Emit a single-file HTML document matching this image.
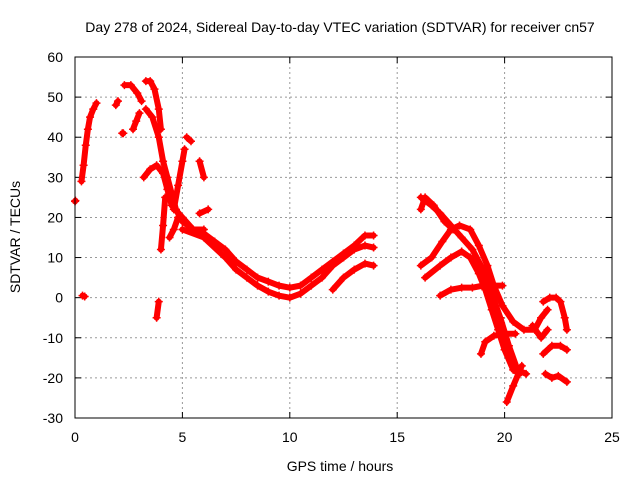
<!DOCTYPE html>
<html><head><meta charset="utf-8"><style>
body{margin:0;background:#fff;}
svg text{font-family:"Liberation Sans",sans-serif;font-size:14px;fill:#000;}
</style></head><body>
<svg id="c" width="640" height="480"></svg>
<script>
const xTicks=[0,5,10,15,20,25];
const yTicks=[-30,-20,-10,0,10,20,30,40,50,60];
const tracks=[
[[0.3,29],[0.4,33],[0.5,38],[0.6,42],[0.7,45],[0.85,47],[1.0,48.5]],
[[0.35,0.5],[0.45,0.3]],
[[0,24],[0.02,24.2]],
[[1.9,48],[2.0,49]],
[[2.2,41],[2.25,41]],
[[2.3,53],[2.6,53],[2.9,51],[3.1,49]],
[[2.7,42],[2.85,44],[3.0,46]],
[[3.3,54],[3.5,54],[3.7,52],[3.9,47],[4.0,42]],
[[3.3,47],[3.6,45],[3.9,40],[4.1,34],[4.3,30],[4.5,26],[4.7,22],[5.0,19],[5.5,17],[6,16],[6.5,14],[7,12],[7.5,9],[8,7],[8.5,5],[9,4],[9.5,3],[10,2.5],[10.5,3],[11,5],[11.5,7],[12,9],[12.5,11],[13,13],[13.5,15.5],[13.9,15.5]],
[[3.2,30],[3.5,32],[3.8,33],[4.1,31],[4.3,27],[4.5,23],[5,20],[5.5,17],[6,17]],
[[4.2,25],[4.1,18],[4.0,12]],
[[3.8,-5],[3.9,-1]],
[[4.4,15],[4.6,17],[4.8,20]],
[[4.6,22],[4.8,28],[5.0,34],[5.1,37]],
[[5.2,40],[5.4,39]],
[[5.8,34],[6.0,30]],
[[5.8,21],[6.2,22]],
[[5,17],[6,15],[7,10],[7.5,7],[8,5],[8.5,3],[9,1.5],[9.5,0.5],[10,0],[10.5,1],[11,3],[11.5,5],[12,8],[12.5,10],[13,12],[13.5,13],[13.9,12.5]],
[[12,2],[12.5,5],[13,7],[13.5,8.5],[13.9,8]],
[[16.1,25],[16.6,23],[17,21],[17.5,18],[18,15],[18.5,12],[19,7],[19.4,1],[19.8,-5],[20.2,-12],[20.6,-18],[21,-19]],
[[16.1,22],[16.3,25],[16.7,23],[17.2,19],[17.6,17]],
[[16.1,8],[16.6,10],[17.1,14],[17.5,17],[17.9,18],[18.4,17],[18.8,13],[19.2,8],[19.5,3],[19.9,-2],[20.4,-6],[20.9,-8],[21.4,-8],[21.7,-5],[22,-3]],
[[16.3,5],[17,8],[17.5,10],[18,11.5],[18.4,10],[18.8,6],[19.1,2],[19.4,-3],[19.7,-8],[20,-13],[20.4,-18],[20.7,-19]],
[[17,0.5],[17.5,2],[18,2.5],[18.5,2.5],[19,3],[19.5,3],[19.9,3]],
[[18.9,-14],[19.1,-11],[19.5,-9.5],[20,-9],[20.5,-9]],
[[20.1,-26],[20.4,-22],[20.8,-17]],
[[21.8,-1],[22.1,0],[22.4,0],[22.6,-1],[22.8,-5],[22.9,-8]],
[[21.8,-14],[22.2,-12],[22.6,-12],[22.9,-13]],
[[21.9,-19],[22.2,-20],[22.5,-19.5],[22.9,-21]],
[[21.3,-7],[21.7,-10],[22,-8]]
];
const L=75,R=612,T=57,B=418;
const sx=v=>L+(v-0)/25*(R-L);
const sy=v=>B-(v+30)/90*(B-T);
const svg=document.getElementById('c');
const NS='http://www.w3.org/2000/svg';
function mk(tag,attrs){const e=document.createElementNS(NS,tag);for(const k in attrs)e.setAttribute(k,attrs[k]);svg.appendChild(e);return e;}
const title=mk('text',{x:340,y:32,'text-anchor':'middle'});title.textContent='Day 278 of 2024, Sidereal Day-to-day VTEC variation (SDTVAR) for receiver cn57';


xTicks.forEach(t=>{
 const g=mk('line',{x1:sx(t),x2:sx(t),y1:T,y2:B,stroke:'#999','stroke-dasharray':'2,3'});
 
 
 mk('line',{x1:sx(t),x2:sx(t),y1:B,y2:B-6,stroke:'#000'});
 mk('line',{x1:sx(t),x2:sx(t),y1:T,y2:T+6,stroke:'#000'});
 const l=mk('text',{x:sx(t),y:B+24,'text-anchor':'middle'});l.textContent=t;
 
 
});
yTicks.forEach(t=>{
 const g=mk('line',{x1:L,x2:R,y1:sy(t),y2:sy(t),stroke:'#999','stroke-dasharray':'2,3'});
 
 
 mk('line',{x1:L,x2:L+6,y1:sy(t),y2:sy(t),stroke:'#000'});
 mk('line',{x1:R,x2:R-6,y1:sy(t),y2:sy(t),stroke:'#000'});
 const l=mk('text',{x:L-12,y:sy(t)+5,'text-anchor':'end'});l.textContent=t;
 
 
});
tracks.forEach(tr=>{
 const p=mk('polyline',{points:tr.map(d=>sx(d[0])+','+sy(d[1])).join(' '),fill:'none',stroke:'#f00','stroke-width':6,'stroke-linejoin':'round','stroke-linecap':'round'});
 
 
 tr.forEach(d=>{
  const m=mk('path',{d:`M${sx(d[0])-4},${sy(d[1])}h8M${sx(d[0])},${sy(d[1])-4}v8`,stroke:'#f00','stroke-width':1.5});
  
  
 });
});
const fr=mk('rect',{x:L,y:T,width:R-L,height:B-T,fill:'none',stroke:'#000'});


const xl=mk('text',{x:340,y:471,'text-anchor':'middle'});xl.textContent='GPS time / hours';


const yl=mk('text',{x:20,y:237,'text-anchor':'middle',transform:'rotate(-90 20 237)'});yl.textContent='SDTVAR / TECUs';


</script>
</body></html>
